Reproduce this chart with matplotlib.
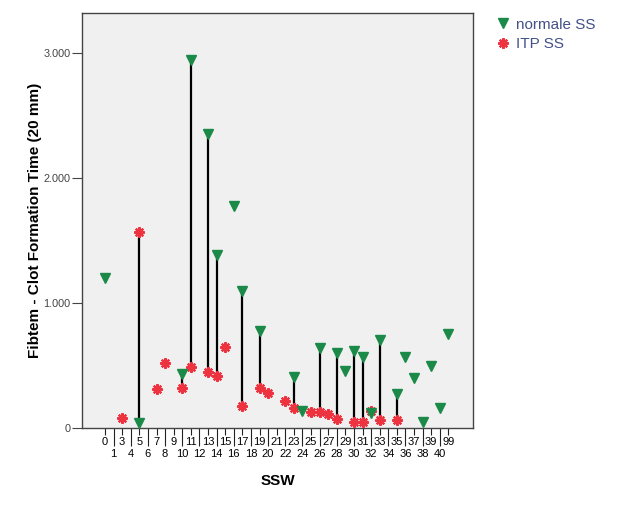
import matplotlib
matplotlib.use("Agg")
import matplotlib.pyplot as plt
from matplotlib.lines import Line2D
import numpy as np

plt.rcParams['font.family'] = ['Liberation Sans', 'DejaVu Sans']

categories = ['0', '1', '3', '4', '5', '6', '7', '8', '9', '10', '11', '12', '13', '14',
              '15', '16', '17', '18', '19', '20', '21', '22', '23', '24', '25', '26', '27',
              '28', '29', '30', '31', '32', '33', '34', '35', '36', '37', '38', '39', '40', '99']

# values per category (missing = no observation)
normale_ss = {'0': 1202, '5': 38, '10': 429, '11': 2944, '13': 2350, '14': 1384, '16': 1776,
              '17': 1098, '19': 778, '23': 410, '24': 136, '26': 638, '28': 598, '29': 458,
              '30': 618, '31': 566, '32': 122, '33': 704, '35': 270, '36': 570, '37': 402,
              '38': 46, '39': 498, '40': 158, '99': 752}
itp_ss = {'3': 80, '5': 1570, '7': 309, '8': 522, '10': 318, '11': 486, '13': 446, '14': 414,
          '15': 646, '17': 178, '19': 322, '20': 282, '22': 218, '23': 158, '25': 126,
          '26': 126, '27': 112, '28': 70, '30': 46, '31': 50, '32': 132, '33': 64, '35': 64}

green = '#1b8a48'
red = '#ee3340'

fig = plt.figure(figsize=(6.33, 5.08), dpi=100)
ax = fig.add_axes([0.129, 0.1575, 0.6186, 0.8175])
ax.set_facecolor('#f0f0f0')

pos = {c: i for i, c in enumerate(categories)}

# connecting lines
for c in categories:
    if c in normale_ss and c in itp_ss:
        ax.plot([pos[c], pos[c]], [normale_ss[c], itp_ss[c]], color='black', lw=1.6, zorder=2)

gx = [pos[c] for c in normale_ss]
gy = [normale_ss[c] for c in normale_ss]
rx = [pos[c] for c in itp_ss]
ry = [itp_ss[c] for c in itp_ss]

ast = dict(linestyle='none', marker=(8, 2, 0), markersize=7.5, markeredgewidth=1.6,
           color=red, markeredgecolor=red)
tri = dict(linestyle='none', marker='v', markersize=7.5, color=green, markeredgecolor=green)

ax.plot(rx, ry, zorder=3, **ast)
ax.plot(gx, gy, zorder=4, **tri)

ax.set_xlim(-2.72, 42.9)
ax.set_ylim(0, 3322)

# y axis
ax.set_yticks([0, 1000, 2000, 3000])
ax.set_yticklabels(['0', '1.000', '2.000', '3.000'])
ax.tick_params(axis='y', length=7, width=0.8, pad=1, labelsize=7.8, labelcolor='#444444',
               color='#444444')

# x axis: top row labels (even index) short ticks, bottom row (odd index) long ticks
top_idx = [i for i in range(len(categories)) if i % 2 == 0]
bot_idx = [i for i in range(len(categories)) if i % 2 == 1]
ax.set_xticks(bot_idx)
ax.set_xticklabels([categories[i] for i in bot_idx])
ax.set_xticks(top_idx, minor=True)
ax.set_xticklabels([categories[i] for i in top_idx], minor=True)
ax.tick_params(axis='x', which='major', length=13, width=0.8, pad=2, labelsize=8,
               color='#222222')
ax.tick_params(axis='x', which='minor', length=5, width=0.8, pad=1.5, labelsize=8,
               color='#222222')

for s in ax.spines.values():
    s.set_color('#444444')
    s.set_linewidth(1.0)

ax.set_xlabel('SSW', fontsize=11, fontweight='bold', labelpad=11)
ax.set_ylabel('Fibtem - Clot Formation Time (20 mm)', fontsize=11, fontweight='bold', labelpad=1)

handles = [Line2D([], [], **tri), Line2D([], [], **ast)]
fig.legend(handles, ['normale SS', 'ITP SS'], loc='upper left',
           bbox_to_anchor=(0.775, 0.977), frameon=False, fontsize=11,
           labelcolor='#44508a', handlelength=0.8, handletextpad=0.45, labelspacing=0.35,
           borderaxespad=0)

fig.savefig('out.png', dpi=100, facecolor='white')
